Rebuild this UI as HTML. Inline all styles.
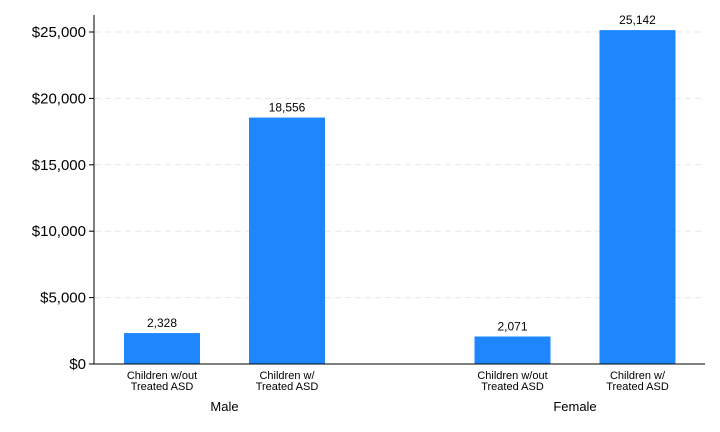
<!DOCTYPE html>
<html><head><meta charset="utf-8"><style>body{margin:0;background:#fff}svg{display:block;font-family:"Liberation Sans",Arial,sans-serif}</style></head>
<body>
<svg id="chart" width="720" height="432" viewBox="0 0 720 432"></svg>
<script>
const groups = ["Male", "Female"];
const categories = ["Children w/out|Treated ASD", "Children w/|Treated ASD"];
const values = [2328, 18556, 2071, 25142];
const yTicks = [0, 5000, 10000, 15000, 20000, 25000];
const yTickLabels = ["$0", "$5,000", "$10,000", "$15,000", "$20,000", "$25,000"];

const svg = document.getElementById('chart');
const NS = 'http://www.w3.org/2000/svg';
const x0 = 94, x1 = 705, yBase = 364, yTop = 32;
const y = v => yBase - (v / 25000) * (yBase - yTop);
const barCenters = [162, 287, 512.5, 637.5];
const groupCenters = [224.5, 575];
function mk(tag, attrs, text) {
  const e = document.createElementNS(NS, tag);
  for (const k in attrs) e.setAttribute(k, attrs[k]);
  if (text !== undefined) e.textContent = text;
  svg.appendChild(e); return e;
}
yTicks.forEach((t, i) => {
  if (t > 0) {
    const g = mk('line', {x1: x0 + 1, x2: x1, y1: y(t), y2: y(t), stroke: '#e8e8e8', 'stroke-dasharray': '6,4'});
    
    
  }
  const tk = mk('line', {x1: x0 - 5, x2: x0, y1: y(t), y2: y(t), stroke: '#000'});
  
  
  const lb = mk('text', {x: x0 - 8, y: y(t) + 5, 'text-anchor': 'end', 'font-size': 15}, yTickLabels[i]);
  
  
});
values.forEach((v, i) => {
  const cx = barCenters[i];
  const r = mk('rect', {x: cx - 38, width: 76, y: y(v), height: yBase - y(v), fill: '#1e87ff'});
  
  
  const t = mk('text', {x: cx, y: y(v) - 6, 'text-anchor': 'middle', 'font-size': 12}, v.toLocaleString('en-US'));
  
  
  const parts = categories[i % 2].split('|');
  parts.forEach((p, j) => {
    const c = mk('text', {x: cx, y: 379 + j * 11, 'text-anchor': 'middle', 'font-size': 11}, p);
    
    
  });
});
groups.forEach((g, i) => {
  const t = mk('text', {x: groupCenters[i], y: 411, 'text-anchor': 'middle', 'font-size': 13}, g);
  
  
});
const ya = mk('line', {x1: x0, x2: x0, y1: 15, y2: yBase, stroke: '#000'});


const xa = mk('line', {x1: x0, x2: x1, y1: yBase, y2: yBase, stroke: '#000'});


</script>
</body></html>
